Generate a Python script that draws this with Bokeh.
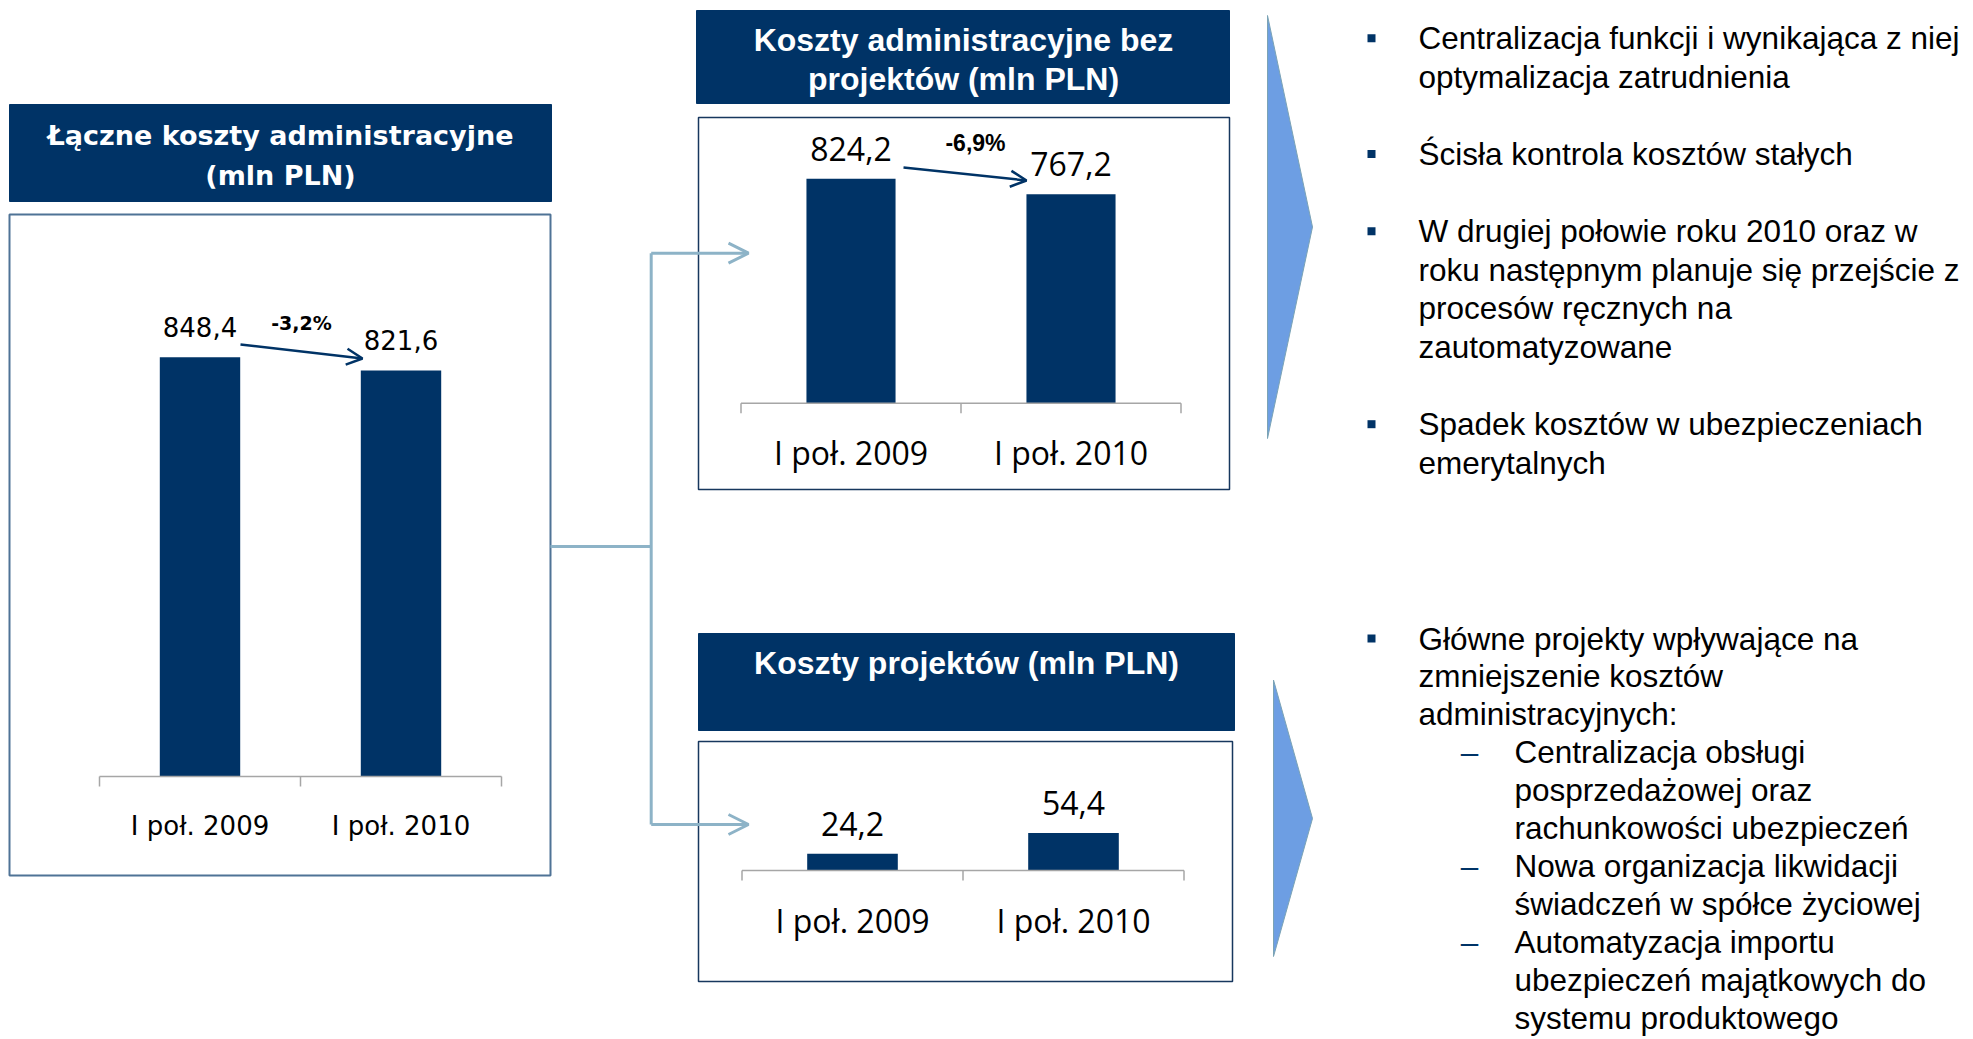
from bokeh.plotting import figure
from bokeh.models import Range1d, Arrow, OpenHead
from bokeh.core.properties import value
from bokeh.embed import file_html
from bokeh.resources import INLINE

# ---------------- data ----------------
categories = ["I poł. 2009", "I poł. 2010"]

total_costs = [848.4, 821.6]
total_labels = ["848,4", "821,6"]
total_change = "-3,2%"

admin_costs = [824.2, 767.2]
admin_labels = ["824,2", "767,2"]
admin_change = "-6,9%"

project_costs = [24.2, 54.4]
project_labels = ["24,2", "54,4"]

title_total = ["Łączne koszty administracyjne", "(mln PLN)"]
title_admin = ["Koszty administracyjne bez", "projektów (mln PLN)"]
title_project = ["Koszty projektów (mln PLN)"]

top_notes = [
    ["Centralizacja funkcji i wynikająca z niej", "optymalizacja zatrudnienia"],
    ["Ścisła kontrola kosztów stałych"],
    ["W drugiej połowie roku 2010 oraz w", "roku następnym planuje się przejście z",
     "procesów ręcznych na", "zautomatyzowane"],
    ["Spadek kosztów w ubezpieczeniach", "emerytalnych"],
]
bottom_lead = ["Główne projekty wpływające na", "zmniejszenie kosztów", "administracyjnych:"]
bottom_subitems = [
    ["Centralizacja obsługi", "posprzedażowej oraz", "rachunkowości ubezpieczeń"],
    ["Nowa organizacja likwidacji", "świadczeń w spółce życiowej"],
    ["Automatyzacja importu", "ubezpieczeń majątkowych do", "systemu produktowego"],
]

# ---------------- style ----------------
NAVY = "#003366"
CONNECT = "#8DB3C7"
AXIS = "#A6A6A6"
TRI = "#6D9EE3"
W, H = 1972, 1036
OX, OY = 0, 0  # coordinates below are page pixels

p = figure(width=W, height=H, x_range=Range1d(OX, OX + W), y_range=Range1d(OY + H, OY),
           output_backend="svg", toolbar_location=None, min_border=0,
           x_axis_location=None, y_axis_location=None)
p.grid.visible = False
p.outline_line_color = None
p.background_fill_color = "white"
p.border_fill_color = "white"


def box(l, r, t, b, fill, line, lw):
    p.quad(left=[l], right=[r], top=[t], bottom=[b], fill_color=fill,
           line_color=line, line_width=lw)


def title(lines, cx, y0, step, font, size):
    ys = [y0 + i * step for i in range(len(lines))]
    p.text(x=[cx] * len(lines), y=ys, text=lines, text_align="center",
           text_baseline="middle", text_color="white", text_font=value(font),
           text_font_size=size, text_font_style="bold")


# boxes
box(9, 551, 104, 201, NAVY, NAVY, 1)
box(9, 550, 214, 875, "white", "#4F7396", 2)
box(696, 1229, 10, 103, NAVY, NAVY, 1)
box(698, 1229, 117, 489, "white", "#17375E", 1.5)
box(698, 1234, 633, 730, NAVY, NAVY, 1)
box(698, 1232, 741, 981, "white", "#17375E", 1.5)

title(title_total, 280, 135, 40, "DejaVu Sans", "27px")
title(title_admin, 963, 39, 39, "Liberation Sans", "32px")
title(title_project, 966, 662, 39, "Liberation Sans", "32px")


def bar_chart(name, vals, labels, cx0, dx, base, ppu, font, lsize, csize, cat_off, bw):
    p.extra_x_ranges[name] = Range1d((OX - cx0) / dx, (OX + W - cx0) / dx)
    p.extra_y_ranges[name] = Range1d((base - (OY + H)) / ppu, (base - OY) / ppu)
    n = len(vals)
    idx = list(range(n))
    p.vbar(x=idx, top=vals, bottom=0, width=bw, fill_color=NAVY, line_color=None,
           x_range_name=name, y_range_name=name)
    p.text(x=idx, y=[v + 30 / ppu for v in vals], text=labels, text_align="center",
           text_baseline="middle", text_color="black", text_font=value(font),
           text_font_size=lsize, x_range_name=name, y_range_name=name)
    # category axis
    p.segment(x0=[-0.5], y0=[0], x1=[n - 0.5], y1=[0], line_color=AXIS, line_width=1.5,
              x_range_name=name, y_range_name=name)
    tx = [i - 0.5 for i in range(n + 1)]
    p.segment(x0=tx, y0=[0] * len(tx), x1=tx, y1=[-10 / ppu] * len(tx), line_color=AXIS,
              line_width=1.5, x_range_name=name, y_range_name=name)
    p.text(x=idx, y=[-cat_off / ppu] * n, text=categories, text_align="center",
           text_baseline="middle", text_color="black", text_font=value(font),
           text_font_size=csize, x_range_name=name, y_range_name=name)


bar_chart("total", total_costs, total_labels, 199.5, 201, 776, 0.4942,
          "DejaVu Sans", "26px", "26px", 49, 0.4)
bar_chart("admin", admin_costs, admin_labels, 850.5, 220, 402.7, 0.2723,
          "Open Sans", "32px", "32px", 49, 0.405)
bar_chart("proj", project_costs, project_labels, 852, 221, 870, 0.69,
          "Open Sans", "32px", "32px", 50, 0.41)

# change arrows and labels
p.add_layout(Arrow(end=OpenHead(size=16, line_color=NAVY, line_width=2.5),
                   x_start=240, y_start=344, x_end=362, y_end=358,
                   line_color=NAVY, line_width=2.5))
p.add_layout(Arrow(end=OpenHead(size=16, line_color=NAVY, line_width=2.5),
                   x_start=903, y_start=167, x_end=1026, y_end=180,
                   line_color=NAVY, line_width=2.5))
p.text(x=[301], y=[322], text=[total_change], text_align="center", text_baseline="alphabetic",
       text_font=value("DejaVu Sans"), text_font_style="bold", text_font_size="19px",
       text_color="black")
p.text(x=[975], y=[142], text=[admin_change], text_align="center", text_baseline="alphabetic",
       text_font=value("Liberation Sans"), text_font_style="bold", text_font_size="23px",
       text_color="black")

# connectors
p.line(x=[550, 650.7], y=[546, 546], line_color=CONNECT, line_width=3)
p.line(x=[650.7, 650.7], y=[252.7, 824], line_color=CONNECT, line_width=3)
for yy in (252.7, 824):
    p.add_layout(Arrow(end=OpenHead(size=20, line_color=CONNECT, line_width=3),
                       x_start=650.7, y_start=yy, x_end=748, y_end=yy,
                       line_color=CONNECT, line_width=3))

# chevrons
p.patch(x=[1267, 1312, 1267], y=[15, 226.5, 438], fill_color=TRI, line_color="#7BA3B5",
        line_width=1)
p.patch(x=[1273, 1312, 1273], y=[679.5, 818, 956], fill_color=TRI, line_color="#7BA3B5",
        line_width=1)

# right-hand notes
STEP = 38.6
TXT = dict(text_font=value("Liberation Sans"), text_font_size="31.5px", text_color="black",
           text_baseline="middle", text_align="left")
row = 0
for item in top_notes:
    p.rect(x=[1371], y=[37.7 + row * STEP], width=8, height=8, fill_color=NAVY, line_color=None)
    for ln in item:
        p.text(x=[1418], y=[37.7 + row * STEP], text=[ln], **TXT)
        row += 1
    row += 1

y0 = 638
STEP2 = 37.9
row = 0
p.rect(x=[1371], y=[y0], width=8, height=8, fill_color=NAVY, line_color=None)
for ln in bottom_lead:
    p.text(x=[1418], y=[y0 + row * STEP2], text=[ln], **TXT)
    row += 1
for item in bottom_subitems:
    p.text(x=[1469], y=[y0 + row * STEP2], text=["–"], text_font=value("Liberation Sans"),
           text_font_size="31.5px", text_color=NAVY, text_baseline="middle", text_align="center")
    for ln in item:
        p.text(x=[1514], y=[y0 + row * STEP2], text=[ln], **TXT)
        row += 1

open("out.html", "w").write(file_html(p, INLINE))
